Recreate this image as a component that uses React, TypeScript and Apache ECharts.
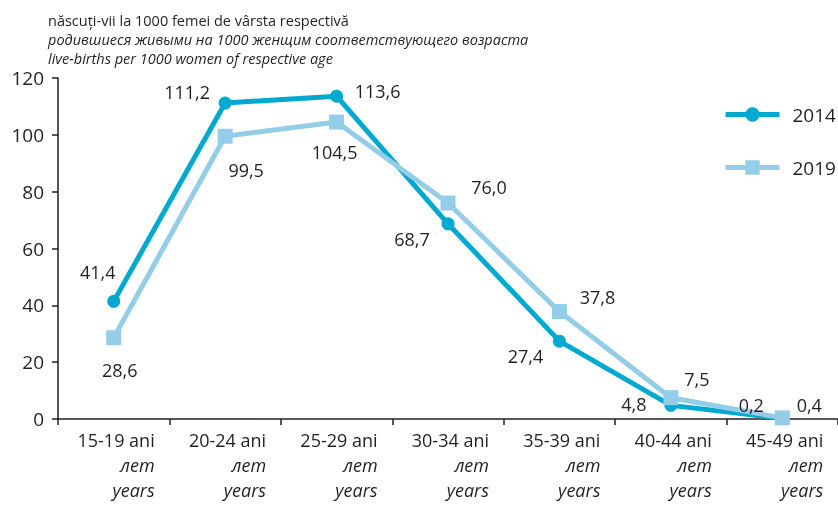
import React, { useEffect, useRef } from "react";
import * as echarts from "echarts";

const categories = ["15-19 ani", "20-24 ani", "25-29 ani", "30-34 ani", "35-39 ani", "40-44 ani", "45-49 ani"];
const values2014 = [41.4, 111.2, 113.6, 68.7, 27.4, 4.8, 0.2];
const values2019 = [28.6, 99.5, 104.5, 76.0, 37.8, 7.5, 0.4];
const seriesNames = ["2014", "2019"];
const yTicks = { min: 0, max: 120, interval: 20 };
const titleLines = [
  "născuți-vii la 1000 femei de vârsta respectivă",
  "родившиеся живыми на 1000 женщим соответствующего возраста",
  "live-births per 1000 women of respective age",
];
const subLabels = ["лет", "years"];

// label placement (style, not data)
const offsets2014 = [[-16, -29], [-38, -11], [41, -5], [-36, 15], [-34, 15], [-37, -1], [-31, -13]];
const offsets2019 = [[6, 32], [21, 34], [-2, 30], [41, -16], [38, -15], [26, -19], [27, -13]];

const FONT = "'Open Sans', 'Noto Sans', sans-serif";
const TEXT = "#231f20";
const C2014 = "#00a9d0";
const C2019 = "#93cde8";

const fmt = (v: number) => v.toFixed(1).replace(".", ",");

export default function App() {
  const ref = useRef<HTMLDivElement>(null);
  useEffect(() => {
    if (!ref.current) return;
    const chart = echarts.init(ref.current, null, { renderer: "svg" });
    const mkData = (vals: number[], offs: number[][]) =>
      vals.map((v, i) => ({
        value: v,
        label: { show: true, position: "inside", offset: offs[i] },
      }));
    chart.setOption({
      animation: false,
      textStyle: { fontFamily: FONT },
      title: {
        left: 48,
        top: 11,
        padding: 0,
        text: `{a|${titleLines[0]}}\n{b|${titleLines[1]}}\n{b|${titleLines[2]}}`,
        textStyle: {
          fontWeight: "normal",
          rich: {
            a: { fontSize: 14.5, lineHeight: 19, color: TEXT, fontFamily: FONT, fontWeight: "normal" },
            b: { fontSize: 14.5, lineHeight: 19, color: TEXT, fontStyle: "italic", fontFamily: FONT, fontWeight: "normal" },
          },
        },
      },
      legend: {
        orient: "vertical",
        left: 723,
        top: 105,
        padding: 0,
        itemWidth: 54,
        itemHeight: 18,
        itemGap: 34,
        lineStyle: { width: 5 },
        textStyle: { fontSize: 19, color: TEXT, fontFamily: FONT, padding: [0, 0, 0, 8] },
        data: seriesNames,
      },
      grid: { left: 58, right: 0, top: 78, bottom: 94, containLabel: false },
      xAxis: {
        type: "category",
        data: categories,
        boundaryGap: true,
        axisLine: { lineStyle: { color: TEXT, width: 1.5 } },
        axisTick: { show: true, alignWithLabel: false, length: 6, lineStyle: { color: TEXT, width: 1.5 } },
        axisLabel: {
          interval: 0,
          margin: 8,
          formatter: (v: string) => `{a|${v}}\n{b|${subLabels[0]}}\n{b|${subLabels[1]}}`,
          rich: {
            a: { fontSize: 18, lineHeight: 25, width: 82, align: "right", color: TEXT, fontFamily: FONT },
            b: { fontSize: 18, lineHeight: 25, width: 82, align: "right", color: TEXT, fontStyle: "italic", fontFamily: FONT },
          },
        },
      },
      yAxis: {
        type: "value",
        min: yTicks.min,
        max: yTicks.max,
        interval: yTicks.interval,
        splitLine: { show: false },
        axisLine: { show: true, lineStyle: { color: TEXT, width: 1.5 } },
        axisTick: { show: true, length: 6, lineStyle: { color: TEXT, width: 1.5 } },
        axisLabel: { fontSize: 19, color: TEXT, margin: 14, fontFamily: FONT },
      },
      series: [
        {
          name: seriesNames[0],
          type: "line",
          data: mkData(values2014, offsets2014),
          symbol: "circle",
          symbolSize: 13,
          lineStyle: { color: C2014, width: 5 },
          itemStyle: { color: C2014 },
          label: { show: true, fontSize: 18, color: TEXT, fontFamily: FONT, formatter: (p: any) => fmt(p.value) },
        },
        {
          name: seriesNames[1],
          type: "line",
          data: mkData(values2019, offsets2019),
          symbol: "rect",
          symbolSize: 15,
          lineStyle: { color: C2019, width: 5 },
          itemStyle: { color: C2019 },
          label: { show: true, fontSize: 18, color: TEXT, fontFamily: FONT, formatter: (p: any) => fmt(p.value) },
        },
      ],
    });
    return () => chart.dispose();
  }, []);
  return <div ref={ref} style={{ position: "fixed", left: 0, top: 0, width: 838, height: 513 }} />;
}
